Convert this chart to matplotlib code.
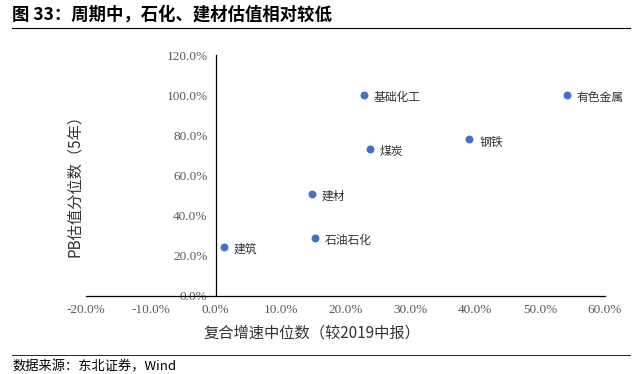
import matplotlib.pyplot as plt
from matplotlib.lines import Line2D
from matplotlib.ticker import FuncFormatter

# data
industries = ['建筑', '建材', '石油石化', '基础化工', '煤炭', '钢铁', '有色金属']
growth = [1.2, 14.8, 15.3, 22.8, 23.7, 39.1, 54.1]      # 复合增速中位数 (%)
pb_pct = [24.5, 51.0, 29.0, 100.0, 73.3, 78.0, 100.0]   # PB估值分位数 (%)

title = '图 33：周期中，石化、建材估值相对较低'
source = '数据来源：东北证券，Wind'

cjk = ['Noto Sans CJK SC', 'DejaVu Sans']
plt.rcParams['font.family'] = ['Liberation Serif', 'Noto Sans CJK SC', 'DejaVu Sans']

fig = plt.figure(figsize=(6.42, 3.74), dpi=100)
ax = fig.add_axes([86 / 642, 1 - 296 / 374, (605 - 86) / 642, (296 - 55) / 374])

ax.scatter(growth, pb_pct, s=22, color='#4472C4', zorder=3)
for name, x, y in zip(industries, growth, pb_pct):
    ax.annotate(name, (x, y), xytext=(7, -2), textcoords='offset points',
                fontsize=8.5, va='center', color='#333333', family=cjk)

ax.set_xlim(-20, 60)
ax.set_ylim(0, 120)
ax.set_xticks(range(-20, 61, 10))
ax.set_yticks(range(0, 121, 20))
pct = FuncFormatter(lambda v, p: f'{v:.1f}%')
ax.xaxis.set_major_formatter(pct)
ax.yaxis.set_major_formatter(pct)

for s in ['top', 'right']:
    ax.spines[s].set_visible(False)
ax.spines['left'].set_position(('data', 0))
ax.spines['bottom'].set_position(('data', 0))
ax.spines['left'].set_linewidth(0.9)
ax.spines['bottom'].set_linewidth(0.9)
ax.tick_params(length=0, labelsize=9.5, labelcolor='#595959')
ax.tick_params(axis='x', pad=6)
ax.tick_params(axis='y', pad=6)

# axis titles placed in figure coords like the original
fig.text(312 / 642, 1 - 333 / 374, '复合增速中位数（较2019中报）', ha='center', va='center',
         fontsize=11, color='#333333', family=cjk)
fig.text(75 / 642, 1 - 182 / 374, 'PB估值分位数（5年）', ha='center', va='center',
         rotation=90, fontsize=11, color='#333333', family=cjk)

fig.text(12 / 642, 1 - 15 / 374, title, ha='left', va='center', fontsize=12.5,
         fontweight='bold', family=cjk)
fig.add_artist(Line2D([12 / 642, 630 / 642], [1 - 28 / 374] * 2, color='black', lw=0.8))
fig.add_artist(Line2D([12 / 642, 630 / 642], [1 - 355 / 374] * 2, color='black', lw=0.6))
fig.text(12 / 642, 1 - 367 / 374, source, ha='left', va='center', fontsize=9.5, family=cjk)

plt.savefig('out.png', dpi=100)
plt.close()
